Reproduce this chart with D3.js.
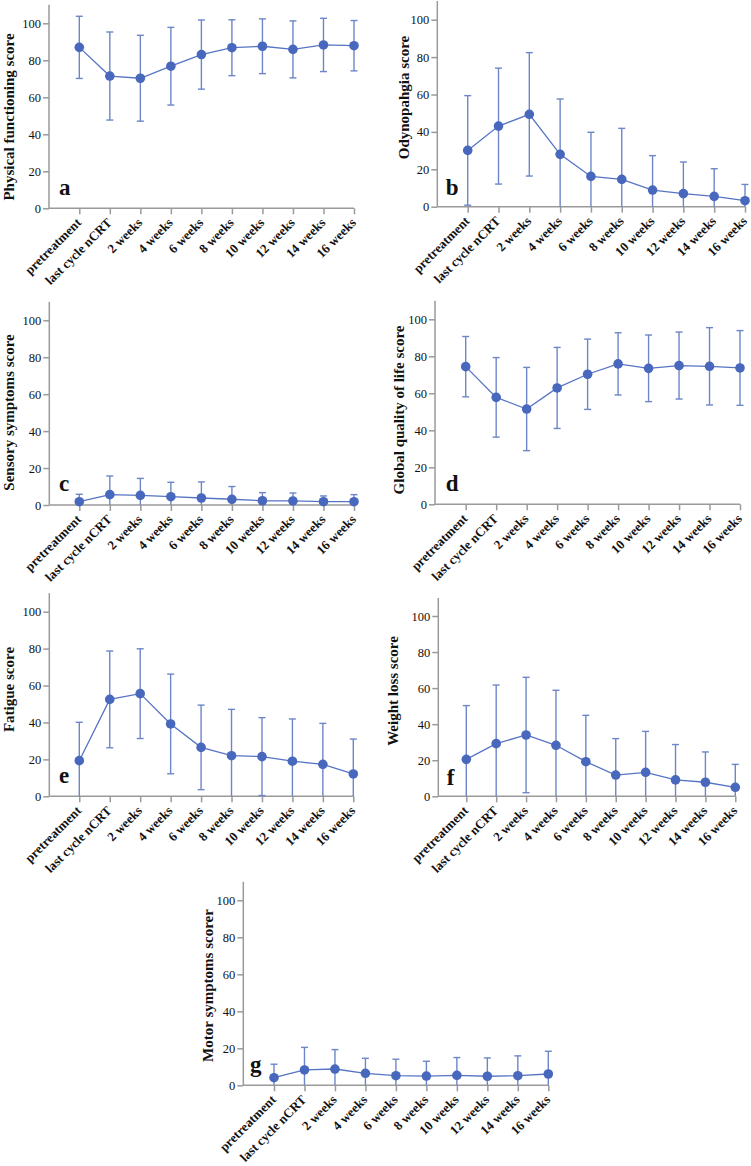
<!DOCTYPE html>
<html>
<head>
<meta charset="utf-8">
<script src="https://cdn.jsdelivr.net/npm/d3@7"></script>
<style>
  html, body { margin: 0; padding: 0; background: #fff; }
  svg { display: block; }
</style>
</head>
<body>
<svg id="chart" width="751" height="1166"></svg>
<script>
const categories = ["pretreatment", "last cycle nCRT", "2 weeks", "4 weeks", "6 weeks",
  "8 weeks", "10 weeks", "12 weeks", "14 weeks", "16 weeks"];
const yTicks = [0, 20, 40, 60, 80, 100];

const physicalMean = [87.0, 71.5, 70.3, 76.8, 83.1, 86.8, 87.6, 85.9, 88.3, 87.9];
const physicalSD   = [16.8, 23.8, 23.2, 21.0, 18.7, 15.1, 14.8, 15.4, 14.4, 13.6];

const odynoMean = [30.1, 43.1, 49.4, 28.0, 16.2, 14.6, 8.9, 7.0, 5.5, 3.2];
const odynoSD   = [29.3, 31.0, 33.0, 29.6, 23.6, 27.3, 18.4, 16.9, 14.8, 8.7];

const sensoryMean = [1.8, 5.6, 5.2, 4.5, 3.8, 3.1, 2.3, 2.2, 1.8, 1.8];
const sensorySD   = [4.0, 10.1, 9.2, 7.8, 8.7, 6.9, 4.4, 4.3, 3.1, 3.8];

const globalMean = [74.4, 57.8, 51.5, 62.9, 70.3, 75.9, 73.5, 75.0, 74.6, 73.7];
const globalSD   = [16.3, 21.5, 22.5, 21.9, 19.0, 16.8, 18.0, 18.1, 20.9, 20.2];

const fatigueMean = [19.3, 52.5, 55.6, 39.2, 26.5, 22.0, 21.5, 19.0, 17.3, 12.1];
const fatigueSD   = [20.8, 26.2, 24.3, 27.0, 22.9, 25.1, 21.1, 22.9, 22.2, 18.9];

const weightMean = [20.5, 29.2, 34.0, 28.3, 19.2, 11.8, 13.3, 9.1, 7.8, 5.0];
const weightSD   = [29.8, 32.5, 32.0, 30.5, 25.7, 20.2, 22.7, 19.6, 16.8, 12.7];

const motorMean = [4.1, 8.3, 8.8, 6.5, 5.2, 5.0, 5.4, 4.9, 5.2, 6.1];
const motorSD   = [7.3, 12.2, 10.5, 8.1, 8.9, 8.0, 9.6, 9.9, 10.7, 12.3];

// layout (positions only)
const panels = [
  { letter: "a", label: "Physical functioning score", mean: physicalMean, sd: physicalSD,
    ax: 49, x1: 79.3, x2: 354, y0: 208.3, y100: 23.3, labX: 14, labY: 117, letX: 59, letY: 195 },
  { letter: "b", label: "Odynopahgia score", mean: odynoMean, sd: odynoSD,
    ax: 437.3, x1: 467.7, x2: 745, y0: 206.7, y100: 19.7, labX: 409, labY: 97.5, letX: 445.7, letY: 195 },
  { letter: "c", label: "Sensory symptoms score", mean: sensoryMean, sd: sensorySD,
    ax: 49.3, x1: 79.3, x2: 354, y0: 505, y100: 320.3, labX: 14, labY: 412.5, letX: 59, letY: 491 },
  { letter: "d", label: "Global quality of life score", mean: globalMean, sd: globalSD,
    ax: 435, x1: 465.7, x2: 740, y0: 504.3, y100: 319.3, labX: 404, labY: 410, letX: 445.7, letY: 491 },
  { letter: "e", label: "Fatigue score", mean: fatigueMean, sd: fatigueSD,
    ax: 49.3, x1: 79.3, x2: 353.3, y0: 796.3, y100: 611.7, labX: 14, labY: 689.5, letX: 59, letY: 783 },
  { letter: "f", label: "Weight loss score", mean: weightMean, sd: weightSD,
    ax: 438.3, x1: 466.3, x2: 735.3, y0: 796.3, y100: 616, labX: 398, labY: 691, letX: 446.7, letY: 785 },
  { letter: "g", label: "Motor symptoms scorer", mean: motorMean, sd: motorSD,
    ax: 243.3, x1: 274, x2: 548.3, y0: 1085.3, y100: 900.3, labX: 213, labY: 985.5, letX: 250, letY: 1071.7 }
];

const axisColor = "#9a9a9a";
const pointColor = "#4868bd";
const lineColor = "#5674c4";
const barColor = "#6c86c8";
const serif = "'Liberation Serif', 'Times New Roman', serif";

const svg = d3.select("#chart");

panels.forEach(p => {
  const g = svg.append("g");
  const x = d3.scalePoint().domain(categories).range([p.x1, p.x2]);
  const y = d3.scaleLinear().domain([0, 100]).range([p.y0, p.y100]);

  // y axis
  const yAxis = d3.axisLeft(y).tickValues(yTicks).tickSize(6).tickPadding(2).tickSizeOuter(0);
  const yg = g.append("g").attr("transform", `translate(${p.ax},0)`).call(yAxis);
  yg.attr("font-family", serif);
  yg.select(".domain").remove();
  yg.append("line").attr("x1", 0).attr("x2", 0).attr("y1", y(0)).attr("y2", y(110))
    .attr("stroke", axisColor).attr("stroke-width", 1.5);
  yg.selectAll(".tick line").attr("stroke", axisColor).attr("stroke-width", 1.5);
  yg.selectAll(".tick text").attr("font-family", serif).attr("font-size", 12.5).attr("fill", "#111");

  // x axis
  const xAxis = d3.axisBottom(x).tickSize(6).tickPadding(3).tickSizeOuter(0);
  const xg = g.append("g").attr("transform", `translate(0,${p.y0})`).call(xAxis);
  xg.attr("font-family", serif);
  xg.select(".domain").remove();
  xg.append("line").attr("x1", p.ax).attr("x2", p.x2).attr("y1", 0).attr("y2", 0)
    .attr("stroke", axisColor).attr("stroke-width", 1.5);
  xg.selectAll(".tick line").attr("stroke", axisColor).attr("stroke-width", 1.5);
  xg.selectAll(".tick text")
    .attr("font-family", serif).attr("font-size", 13).attr("font-weight", "bold").attr("fill", "#111")
    .attr("text-anchor", "end")
    .attr("transform", "translate(-1,12) rotate(-45)")
    .attr("dy", "0.35em").attr("y", 0).attr("x", 0);

  // y label
  g.append("text")
    .attr("transform", `translate(${p.labX},${p.labY}) rotate(-90)`)
    .attr("text-anchor", "middle")
    .attr("font-family", serif).attr("font-size", 15).attr("font-weight", "bold").attr("fill", "#111")
    .text(p.label);

  // panel letter
  g.append("text").attr("x", p.letX).attr("y", p.letY)
    .attr("font-family", serif).attr("font-size", 23).attr("font-weight", "bold").attr("fill", "#111")
    .text(p.letter);

  const data = categories.map((c, i) => ({ c, m: p.mean[i], s: p.sd[i] }));

  // error bars
  const eb = g.append("g").attr("stroke", barColor).attr("stroke-width", 1.4).attr("fill", "none");
  data.forEach(d => {
    const cx = x(d.c);
    const hi = Math.min(110, d.m + d.s);
    const lo = Math.max(0, d.m - d.s);
    eb.append("line").attr("x1", cx).attr("x2", cx).attr("y1", y(hi)).attr("y2", y(lo));
    eb.append("line").attr("x1", cx - 3.5).attr("x2", cx + 3.5).attr("y1", y(hi)).attr("y2", y(hi));
    if (d.m - d.s > 0) {
      eb.append("line").attr("x1", cx - 3.5).attr("x2", cx + 3.5).attr("y1", y(lo)).attr("y2", y(lo));
    }
  });

  // line
  g.append("path").datum(data)
    .attr("d", d3.line().x(d => x(d.c)).y(d => y(d.m)))
    .attr("fill", "none").attr("stroke", lineColor).attr("stroke-width", 1.3);

  // points
  g.selectAll("circle.pt").data(data).enter().append("circle")
    .attr("class", "pt")
    .attr("cx", d => x(d.c)).attr("cy", d => y(d.m)).attr("r", 4.8)
    .attr("fill", pointColor);
});
</script>
</body>
</html>
